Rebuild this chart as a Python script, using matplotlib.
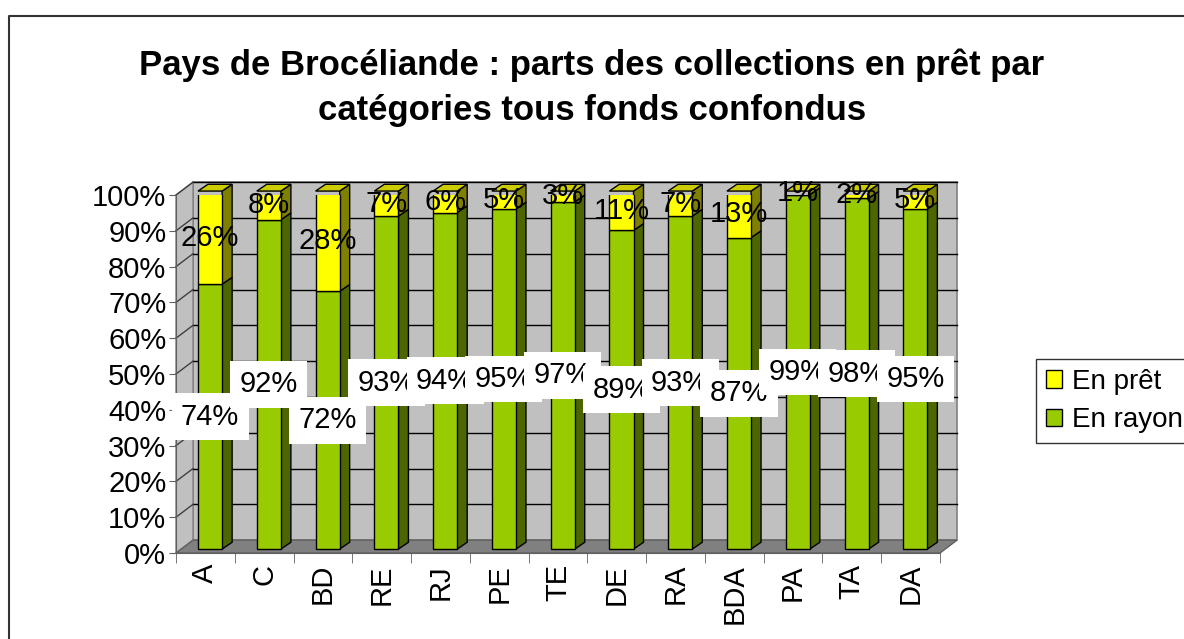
import matplotlib
matplotlib.use("Agg")
import matplotlib.pyplot as plt
from matplotlib.patches import Polygon, Patch
from matplotlib.lines import Line2D
import numpy as np

plt.rcParams['font.family'] = ['Liberation Sans', 'DejaVu Sans']

categories = ["A", "C", "BD", "RE", "RJ", "PE", "TE", "DE", "RA", "BDA", "PA", "TA", "DA"]
en_rayon = [74, 92, 72, 93, 94, 95, 97, 89, 93, 87, 99, 98, 95]
en_pret = [26, 8, 28, 7, 6, 5, 3, 11, 7, 13, 1, 2, 5]
yticks = np.arange(0, 101, 10)
title = "Pays de Brocéliande : parts des collections en prêt par\ncatégories tous fonds confondus"

# colours of the fake 3D chart
green, green_side = "#99cc00", "#4d6600"
yellow, yellow_side, yellow_top = "#ffff00", "#808000", "#cccc00"
wall, floor = "#c0c0c0", "#808080"

W, H = 1184, 639
fig = plt.figure(figsize=(W / 100, H / 100), dpi=100)
ax = fig.add_axes([176 / W, 1 - 553 / H, 764 / W, 358 / H])
n = len(categories)
x = np.arange(n)
ax.set_xlim(-0.5, n - 0.5)
ax.set_ylim(0, 100)

# depth of the box (in data units) and of a bar
dx, dy = 0.29, 3.6
bx, by = 0.08, 1.1        # bars sit a bit behind the front plane
bdx, bdy = 0.17, 1.9      # bar thickness
bw = 0.41
fs = 21

x0, x1 = -0.5, n - 0.5
# back wall, floor and left wall
ax.add_patch(Polygon([(x0 + dx, dy), (x1 + dx, dy), (x1 + dx, 100 + dy), (x0 + dx, 100 + dy)],
                     closed=True, fc=wall, ec=floor, lw=1.2, clip_on=False, zorder=0))
ax.add_patch(Polygon([(x0, 0), (x1, 0), (x1 + dx, dy), (x0 + dx, dy)],
                     closed=True, fc=floor, ec="#606060", lw=1, clip_on=False, zorder=1))
ax.add_patch(Polygon([(x0, 0), (x0 + dx, dy), (x0 + dx, 100 + dy), (x0, 100)],
                     closed=True, fc=wall, ec=floor, lw=1, clip_on=False, zorder=0.5))
for t in yticks[1:]:
    ax.plot([x0 + dx, x1 + dx], [t + dy, t + dy], color="black", lw=1, clip_on=False, zorder=0.8)
    ax.plot([x0, x0 + dx], [t, t + dy], color="#404040", lw=1, clip_on=False, zorder=0.8)

# bars: front faces via ax.bar, sides and tops as parallelograms
xb = x + bx
ax.bar(xb, en_rayon, bw, bottom=by, color=green, edgecolor="black", lw=1, zorder=4)
ax.bar(xb, en_pret, bw, bottom=np.array(en_rayon) + by, color=yellow, edgecolor="black", lw=1, zorder=4)
for xi, g, p in zip(xb, en_rayon, en_pret):
    r = xi + bw / 2
    l = xi - bw / 2
    ax.add_patch(Polygon([(r, by), (r + bdx, by + bdy), (r + bdx, by + g + bdy), (r, by + g)],
                         closed=True, fc=green_side, ec="black", lw=1, clip_on=False, zorder=3))
    top = by + g + p
    ax.add_patch(Polygon([(r, by + g), (r + bdx, by + g + bdy), (r + bdx, top + bdy), (r, top)],
                         closed=True, fc=yellow_side, ec="black", lw=1, clip_on=False, zorder=3))
    ax.add_patch(Polygon([(l, top), (r, top), (r + bdx, top + bdy), (l + bdx, top + bdy)],
                         closed=True, fc=yellow_top, ec="black", lw=1, clip_on=False, zorder=3))

# value labels
for xi, g, p in zip(xb, en_rayon, en_pret):
    ax.text(xi, by + g / 2, f"{g}%", ha="center", va="center", fontsize=fs, zorder=6,
            bbox=dict(boxstyle="square,pad=0.32", fc="white", ec="none"))
    ax.text(xi, by + g + p / 2, f"{p}%", ha="center", va="center", fontsize=fs, zorder=6)

# axes
for s in ["top", "right"]:
    ax.spines[s].set_visible(False)
for s in ["left", "bottom"]:
    ax.spines[s].set_color("#606060")
    ax.spines[s].set_zorder(2)
ax.set_yticks(yticks)
ax.set_yticklabels([f"{t}%" for t in yticks], fontsize=fs)
ax.tick_params(axis="y", length=5, color="#606060", pad=2)
ax.set_xticks(x)
ax.set_xticklabels(categories, rotation=90, fontsize=fs)
ax.set_xticks(np.arange(n + 1) - 0.5, minor=True)
ax.tick_params(axis="x", which="major", length=0, pad=8)
ax.tick_params(axis="x", which="minor", length=7, color="#606060")
ax.patch.set_alpha(0)

fig.text(0.5, 1 - 88 / H, title, ha="center", va="center", fontsize=25,
         fontweight="bold", linespacing=1.45)

handles = [Patch(fc=yellow, ec="black", lw=1), Patch(fc=green, ec="black", lw=1)]
leg = fig.legend(handles, ["En prêt", "En rayon"], loc="center left",
                 bbox_to_anchor=(1036 / W, 1 - 401 / H), fontsize=20, frameon=True,
                 fancybox=False, edgecolor="black", handlelength=0.6, handleheight=0.6,
                 handletextpad=0.35, borderpad=0.35, labelspacing=0.45, borderaxespad=0)
leg.get_frame().set_linewidth(1)

# outer chart border (cut at the right and bottom)
fig.add_artist(Line2D([8.5 / W, 8.5 / W, 1.01], [-0.01, 1 - 15.5 / H, 1 - 15.5 / H],
                      color="#333333", lw=1.5, transform=fig.transFigure))

fig.savefig("out.png", dpi=100)
